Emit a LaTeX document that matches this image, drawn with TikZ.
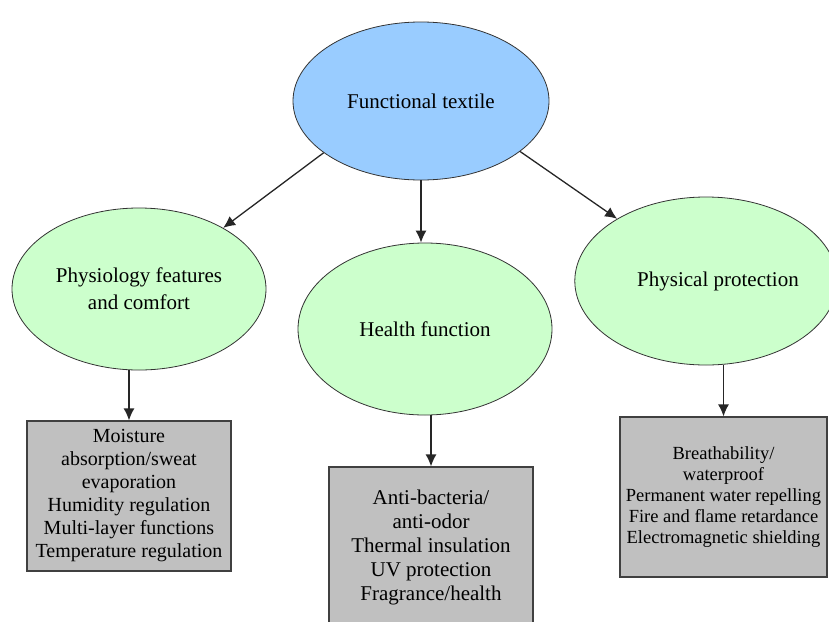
\documentclass[tikz,border=0pt]{standalone}
\usepackage{fontspec}
\setmainfont{Liberation Serif}
\usetikzlibrary{shapes.geometric,arrows.meta}
\definecolor{ovalblue}{RGB}{153,204,255}
\definecolor{ovalgreen}{RGB}{204,255,204}
\definecolor{boxgray}{RGB}{192,192,192}
\tikzstyle{mainoval} = [draw=black!80, line width=0.8pt, fill=ovalblue, ellipse, inner sep=0pt, font=\fontsize{21}{27}\selectfont, align=center]
\tikzstyle{suboval} = [draw=black!80, line width=0.8pt, fill=ovalgreen, ellipse, inner sep=0pt, font=\fontsize{21}{27}\selectfont, align=center]
\tikzstyle{listbox} = [draw=black!75, line width=1.2pt, fill=boxgray, rectangle, inner sep=0pt, align=center]
\tikzstyle{myarrow} = [draw=black!85, line width=1.3pt, -{Latex[length=12pt,width=11pt]}]

\begin{document}
\begin{tikzpicture}[x=1pt,y=-1pt]
\useasboundingbox (0,0) rectangle (829,621);
\node [mainoval, minimum width=256pt, minimum height=158pt] (ft) at (421,101) {Functional textile};
\node [suboval, minimum width=254pt, minimum height=162pt] (phys) at (139,289) {Physiology features\\and comfort};
\node [suboval, minimum width=254pt, minimum height=172pt] (health) at (425,329) {Health function};
\node [suboval, minimum width=242pt, minimum height=168pt] (prot) at (706,281) {\hspace*{24pt}Physical protection};
\node [listbox, minimum width=204pt, minimum height=150pt, font=\fontsize{20}{23}\selectfont] (moist) at (129,496) {%
    Moisture\\absorption/sweat\\evaporation\\Humidity regulation\\Multi-layer functions\\Temperature regulation};
\node [listbox, minimum width=204pt, minimum height=160pt, font=\fontsize{21}{24}\selectfont] (hbox) at (431,547) {%
    Anti-bacteria/\\anti-odor\\Thermal insulation\\UV protection\\Fragrance/health};
\node [listbox, minimum width=207pt, minimum height=160pt, font=\fontsize{18.5}{21}\selectfont] (pbox) at (723.5,497) {%
    Breathability/\\waterproof\\Permanent water repelling\\Fire and flame retardance\\Electromagnetic shielding};
\draw [myarrow] (ft.208) -- (phys.36);
\draw [myarrow] (ft.south) -- (ft.south |- health.north);
\draw [myarrow] (ft.333) -- (prot.145);
\draw [myarrow] (moist.north |- phys.south) -- (moist.north);
\draw [myarrow] (hbox.north |- health.south) -- (hbox.north);
\draw [myarrow] (pbox.north |- prot.south) -- (pbox.north);
\end{tikzpicture}
\end{document}
